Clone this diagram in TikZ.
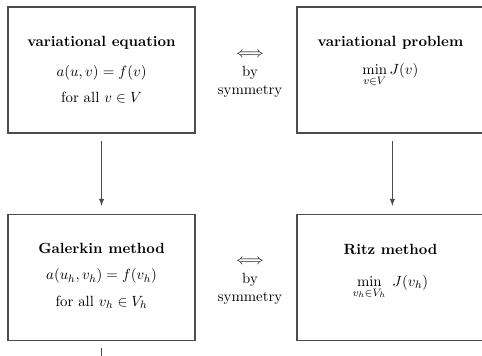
\documentclass[tikz,border=0pt,11pt]{standalone}
\usepackage{amsmath}
\begin{document}
\begin{tikzpicture}[thick, every node/.style={font=\normalsize},
    box/.style={draw=black!70, line width=1.1pt, minimum width=4.86cm, minimum height=3.28cm, inner sep=0pt},
    wbox/.style={box, minimum width=5.1cm},
    txt/.style={anchor=north, align=center},
    conn/.style={black!70, line width=0.8pt, -latex, shorten <=0.18cm, shorten >=0.2cm}]
  \useasboundingbox (0,0) rectangle (12.53,9.23);
  % the four boxes
  \node[box] (veq) at (2.64,7.41) {};
  \node[wbox] (vprob) at (10.27,7.41) {};
  \node[box] (galerkin) at (2.64,2.02) {};
  \node[wbox] (ritz) at (10.27,2.02) {};
  \node[txt] (veqtext) at ([yshift=-0.65cm]veq.north) {\textbf{variational equation}\\[8pt] $a(u,v)=f(v)$\\[6pt] for all $v\in V$};
  \node[txt] (vprobtext) at ([xshift=-0.12cm,yshift=-0.65cm]vprob.north) {\textbf{variational problem}\\[7pt] $\min\limits_{v\in V} J(v)$};
  \node[txt] (galtext) at ([yshift=-0.62cm]galerkin.north) {\textbf{Galerkin method}\\[6pt] $a(u_h,v_h)=f(v_h)$\\[6pt] for all $v_h\in V_h$};
  \node[txt] (ritztext) at ([xshift=-0.12cm,yshift=-0.65cm]ritz.north) {\textbf{Ritz method}\\[10pt] $\min\limits_{v_h\in V_h}\; J(v_h)$};
  % symmetry labels between the boxes
  \node[align=center] (symtop) at (6.5,7.28) {$\Longleftrightarrow$\\ by\\ symmetry};
  \node[align=center] (symbot) at (6.5,1.9) {$\Longleftrightarrow$\\ by\\ symmetry};
  % arrows
  \coordinate (gstub) at (2.64,-0.3);
  \draw[conn] ([xshift=-0.07cm]vprob.south) -- ([xshift=-0.07cm]ritz.north);
  \draw[conn] (veq) -- (galerkin);
  \draw[conn, -] (galerkin) -- (gstub);
\end{tikzpicture}
\end{document}
